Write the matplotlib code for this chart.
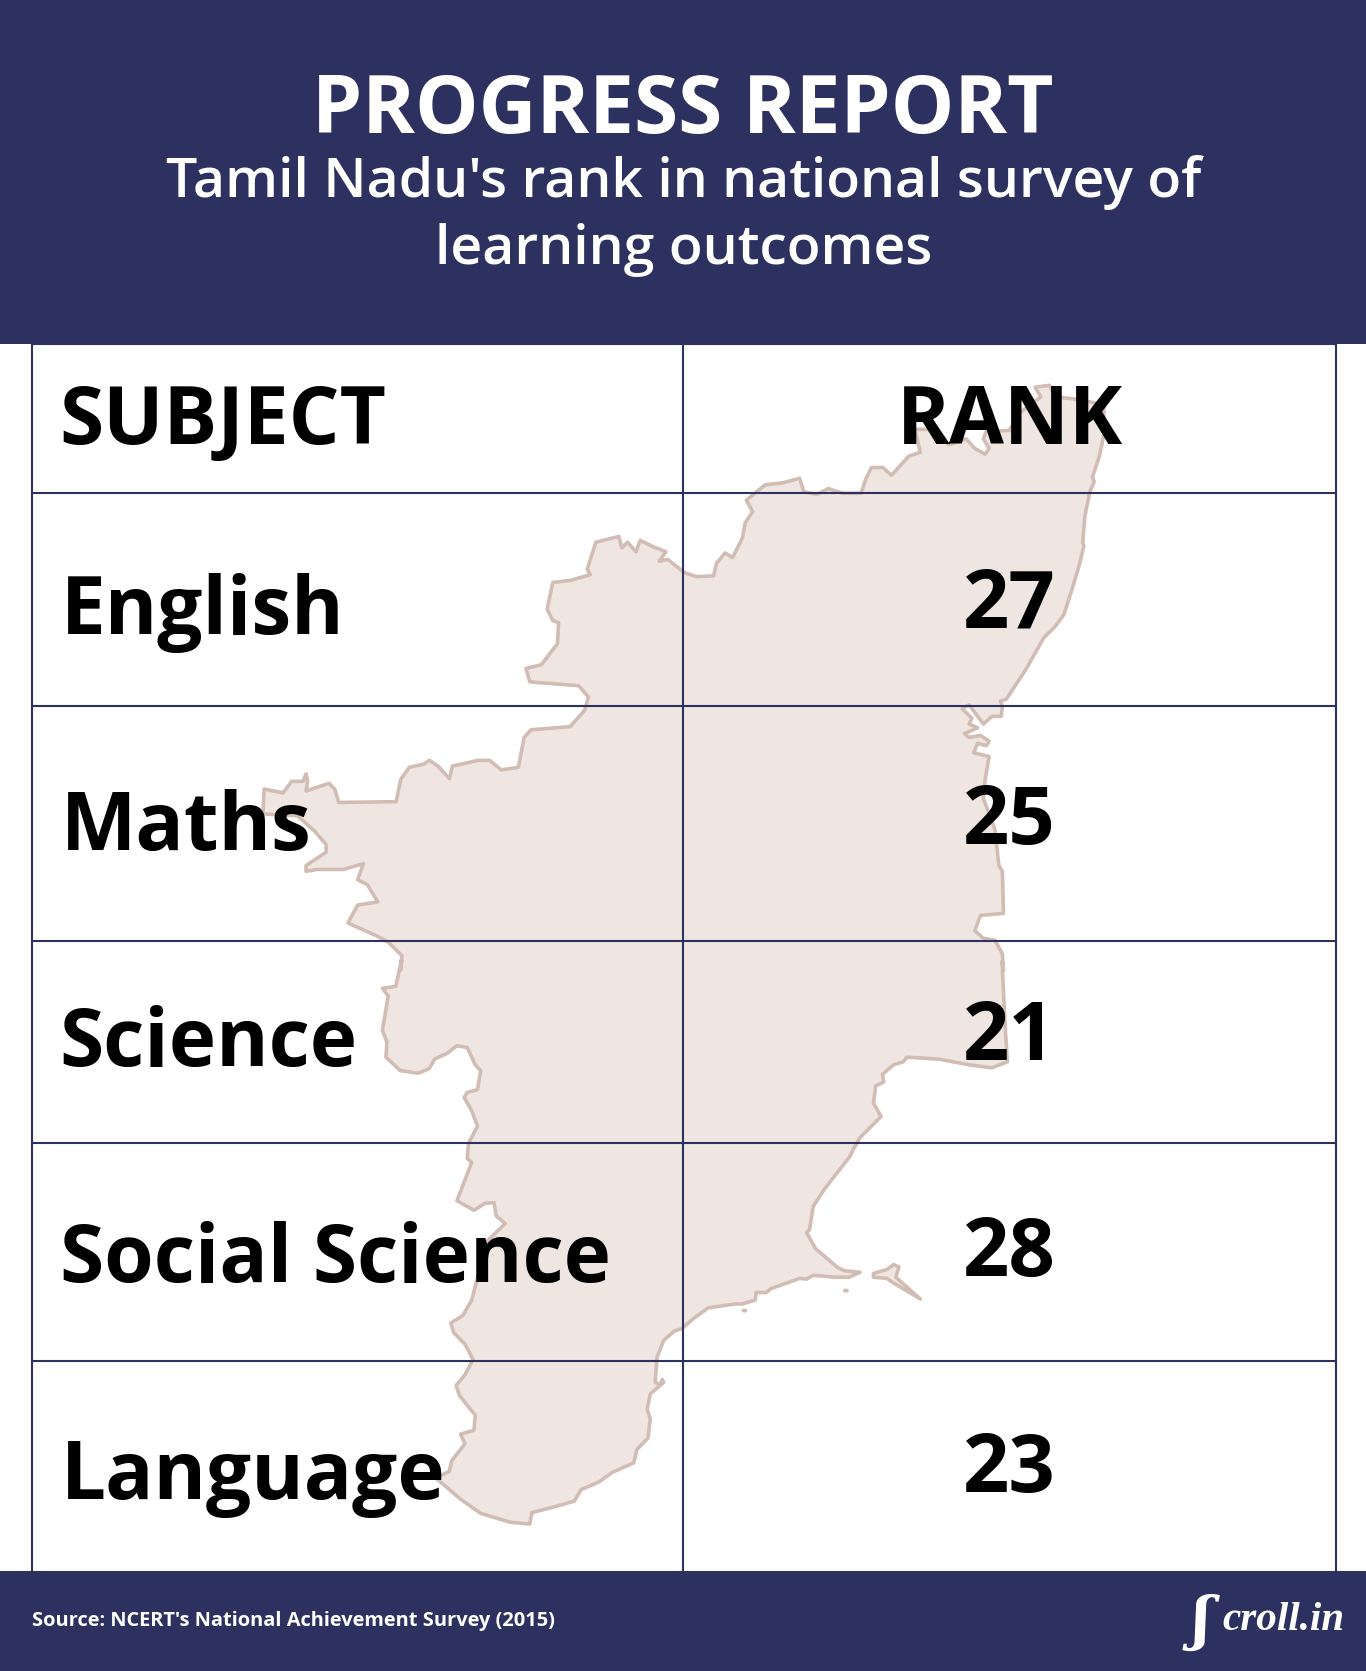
import matplotlib
matplotlib.use("Agg")
import matplotlib.pyplot as plt
from matplotlib.patches import Polygon, Rectangle, Ellipse

W, H = 1366, 1671
NAVY = "#2d3160"
subjects = ["English", "Maths", "Science", "Social Science", "Language"]
ranks = [27, 25, 21, 28, 23]
row_edges = [344, 493, 706, 941, 1143, 1361, 1571]
table_x = [32, 683, 1336]

# Outline readings, taken from enlarged crops of the reference
north_east = [(1505,170),(1497,225),(1485,280),(1488,292),(1480,320),(1472,380),(1468,450),(1470,460),(1462,510),(1450,570),(1435,640),(1420,670),(1400,700),(1370,780),(1335,860),(1325,865),(1328,880),(1326,905),(1310,905),(1295,925),(1285,905),(1270,875),(1258,885),(1275,910),(1270,925),(1285,935),(1262,950),(1270,960),(1290,955),(1305,970),(1300,982),(1285,975),(1278,1000),(1305,1010),(1298,1070),(1295,1120),(1315,1200),(1322,1295),(1328,1310),(1330,1420),(1290,1425),(1280,1465),(1295,1485),(1315,1490),(1328,1525),(1330,1568)]
south = [(1483,30),(1490,200),(1495,292),(1460,308),(1410,300),(1340,285),(1270,280),(1262,292),(1240,300),(1215,325),(1218,345),(1200,355),(1195,400),(1212,435),(1165,490),(1150,520),(1142,540),(1115,580),(1085,625),(1060,670),(1052,730),(1045,738),(1065,780),(1115,830),(1130,838),(1165,842),(1140,855),(1110,855),(1060,850),(1045,860),(1030,858),(965,885),(955,895),(932,895),(930,915),(900,925),(885,925),(825,935),(795,960),(765,990),(750,995),(725,1020),(710,1065),(706,1130),(718,1135),(722,1122),(725,1130),(695,1160),(688,1200),(695,1225),(690,1275),(665,1305),(658,1340),(610,1365),(580,1390),(540,1410),(525,1440),(480,1455),(430,1470),(425,1500),(380,1495),(315,1472),(270,1435),(215,1380),(245,1362),(250,1335),(280,1290),(270,1265),(300,1255),(303,1215),(285,1190),(268,1165),(260,1138),(280,1110),(298,1070),(280,1030),(255,1000),(248,975),(275,955),(295,915),(305,870),(330,760),(370,715),(350,695),(345,660),(325,662),(300,680),(262,655),(295,555),(285,545),(288,505),(308,460),(295,420),(278,385),(285,372),(308,365),(315,315),(303,300),(285,255),(262,250),(240,270),(212,285),(200,310),(175,322),(135,315),(103,280),(105,240),(95,210),(108,120),(95,100),(125,95),(138,25)]
north_west = [(280,1568),(282,1530),(258,1495),(240,1480),(188,1445),(205,1398),(240,1390),(222,1345),(205,1332),(215,1290),(180,1305),(135,1305),(115,1310),(115,1295),(150,1260),(150,1240),(130,1205),(100,1165),(40,1160),(42,1095),(75,1105),(90,1075),(110,1075),(115,1055),(118,1075),(115,1100),(155,1080),(165,1095),(172,1130),(272,1128),(280,1070),(295,1038),(320,1030),(330,1020),(345,1035),(365,1068),(370,1035),(415,1020),(435,1020),(455,1045),(485,1038),(495,960),(507,940),(575,932),(600,890),(607,855),(590,825),(505,815),(498,780),(525,770),(553,715),(555,660),(545,655),(535,625),(545,555),(575,550),(610,535),(605,520),(620,450),(660,435),(665,465),(675,450),(690,475),(697,445),(720,462),(742,475),(730,500),(745,495),(775,530),(795,540),(825,538),(830,505),(845,478),(858,490),(875,440),(880,400),(893,370),(882,340),(915,300),(945,295),(975,283),(982,318),(1005,325),(1025,310),(1050,322),(1082,322),(1090,285),(1100,255),(1120,255),(1135,275),(1165,225),(1185,215),(1178,170),(1175,155),(1200,155),(1235,195),(1265,180),(1280,205),(1298,220),(1305,205),(1295,180),(1300,160),(1340,158),(1360,110),(1395,70),(1385,45),(1410,40),(1420,70),(1450,75),(1505,90)]
island = [(1195,845),(1225,835),(1240,822),(1252,828),(1245,855),(1300,912),(1240,870),(1225,858),(1195,855)]
islets = [(1133,890),(906,942)]

def crop_a(p):
    return (240 + p[0] / 1.742, 370 + p[1] / 2.613)
def crop_b(p):
    return (340 + p[0] / 2.24, 950 + p[1] / 2.613)

outline = [crop_a(p) for p in north_east] + [crop_b(p) for p in south] + [crop_a(p) for p in north_west]

plt.rcParams["font.family"] = ["Open Sans", "DejaVu Sans"]
fig = plt.figure(figsize=(W / 100, H / 100), dpi=100)
ax = fig.add_axes([0, 0, 1, 1])
ax.set_xlim(0, W)
ax.set_ylim(H, 0)
ax.axis("off")

FILL, EDGE = "#efe6e2", "#d2bdb4"
ax.add_patch(Polygon(outline, closed=True, fc=FILL, ec=EDGE, lw=2.6, joinstyle="round", zorder=1))
ax.add_patch(Polygon([crop_b(p) for p in island], closed=True, fc=FILL, ec=EDGE, lw=2.6, joinstyle="round", zorder=1))
for p in islets:
    x, y = crop_b(p)
    ax.add_patch(Ellipse((x, y), 6, 4, fc=EDGE, ec="none", zorder=1))

ax.add_patch(Rectangle((0, 0), W, row_edges[0], fc=NAVY, ec="none", zorder=3))
ax.add_patch(Rectangle((0, row_edges[-1]), W, H - row_edges[-1], fc=NAVY, ec="none", zorder=3))

ax.hlines(row_edges[0:-1], table_x[0], table_x[-1], color=NAVY, lw=1.5, zorder=2)
ax.vlines(table_x, row_edges[0], row_edges[-1], color=NAVY, lw=1.5, zorder=2)

ax.text(683, 112, "PROGRESS REPORT", color="white", fontsize=57.6, fontweight="bold", ha="center", va="center", zorder=4)
ax.text(684, 183, "Tamil Nadu's rank in national survey of", color="white", fontsize=39.9, fontweight="semibold", ha="center", va="center", zorder=4)
ax.text(684, 250, "learning outcomes", color="white", fontsize=39.9, fontweight="semibold", ha="center", va="center", zorder=4)

ax.text(59, 423, "SUBJECT", color="black", fontsize=57.6, fontweight="bold", va="center", zorder=4)
ax.text(1010, 423, "RANK", color="black", fontsize=57.6, fontweight="bold", ha="center", va="center", zorder=4)

label_x = [61, 61, 59, 60, 61]
label_y = [613, 829, 1045, 1261, 1478]
rank_y = [606, 823, 1039, 1255, 1471]
for s, r, lx, ly, ry in zip(subjects, ranks, label_x, label_y, rank_y):
    ax.text(lx, ly, s, color="black", fontsize=57.6, fontweight="bold", va="center", zorder=4)
    ax.text(1009.5, ry, str(r), color="black", fontsize=58.5, fontweight="bold", ha="center", va="center", zorder=4)

ax.text(32, 1621, "Source: NCERT's National Achievement Survey (2015)", color="white", fontsize=14.45, fontweight="bold", va="center", zorder=4)
ax.text(1192, 1622, "ʃ", color="white", fontsize=42, family="DejaVu Serif", style="italic", fontweight="bold", va="center", zorder=4)
ax.text(1222, 1620, "croll.in", color="white", fontsize=29.6, family="Liberation Serif", style="italic", fontweight="bold", va="center", zorder=4)

fig.savefig("out.png", dpi=100)
